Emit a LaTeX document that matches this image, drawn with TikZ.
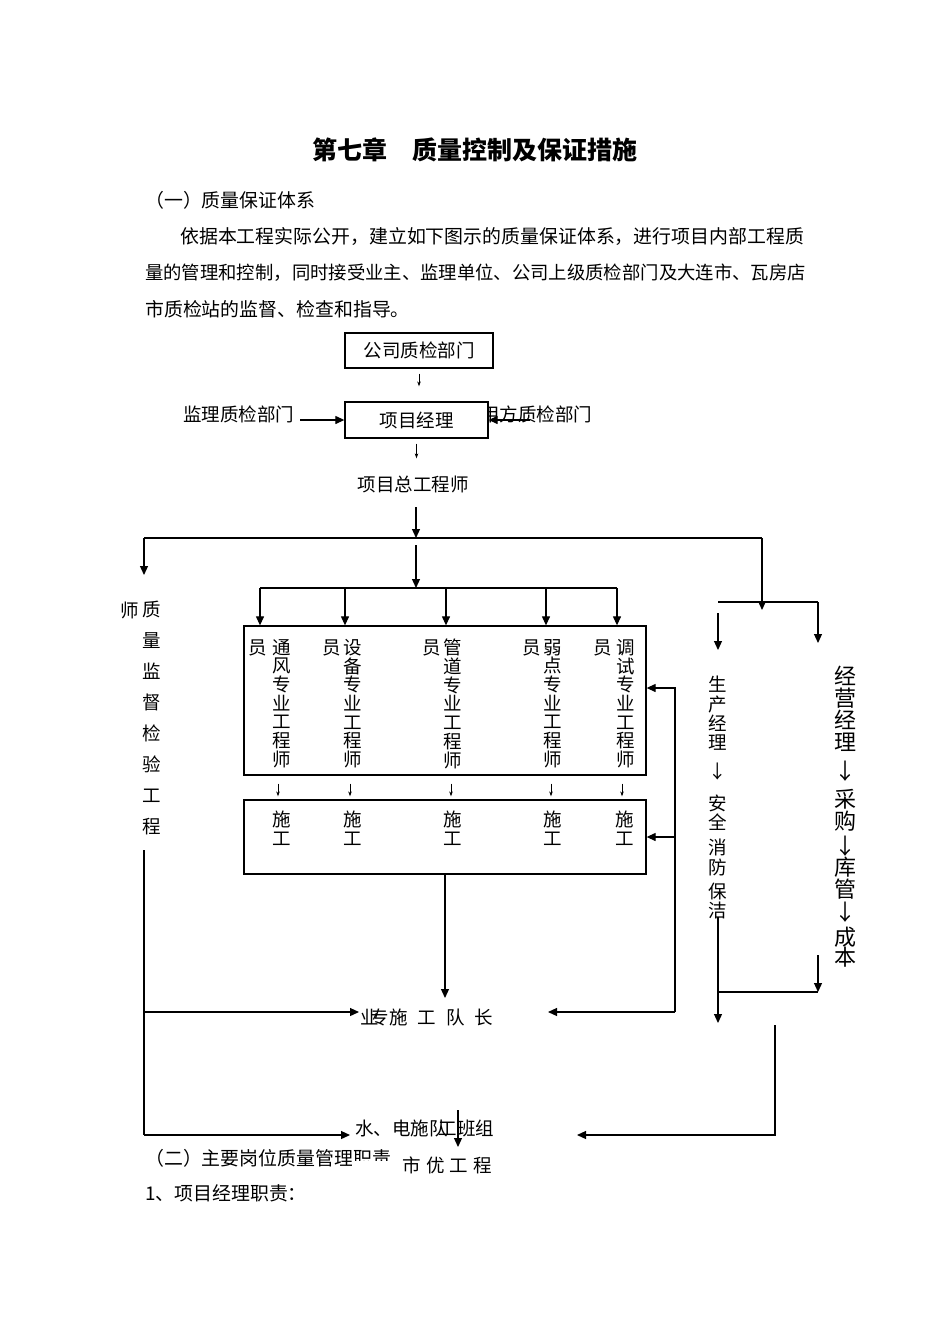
\documentclass[tikz,border=0pt]{standalone}
\usepackage{fontspec}
\setmainfont{Noto Sans CJK SC}
\usepackage{tikz}
\usetikzlibrary{arrows.meta}

\begin{document}
\begin{tikzpicture}[
    x=1pt, y=-1pt,
    line/.style={line width=1.2pt},
    arrow/.style={-{Triangle[length=9pt,width=8pt]}, line width=1.2pt},
    small/.style={-{Stealth[length=5pt,width=3.5pt]}, line width=0.6pt},
    box/.style={rectangle, draw, line width=1.3pt, fill=white, inner sep=0pt},
    txt/.style={inner sep=0pt, font=\fontsize{18.5}{18.7}\selectfont},
    vtxt/.style={txt, align=center, anchor=north},
    para/.style={inner sep=0pt, anchor=west, font=\fontsize{18.9}{20}\selectfont}
]
    \useasboundingbox[fill=white] (0,0) rectangle (950,1344);

    % page text
    \node[inner sep=0pt, font=\fontsize{25}{25}\selectfont\bfseries] (title) at (475,150) {第七章\hspace{25pt}质量控制及保证措施};
    \node[para] (sec1) at (145,200) {（一）质量保证体系};
    \node[para] (par1) at (180,237) {依据本工程实际公开，建立如下图示的质量保证体系，进行项目内部工程质};
    \node[para, font=\fontsize{18.35}{20}\selectfont] (par2) at (145,273) {量的管理和控制，同时接受业主、监理单位、公司上级质检部门及大连市、瓦房店};
    \node[para] (par3) at (145,309) {市质检站的监督、检查和指导。};

    % top of the chart
    \node[box, txt, minimum width=148pt, minimum height=35pt] (company) at (419,350.5) {公司质检部门};
    \node[txt, anchor=west] (supervisor) at (183,414) {监理质检部门};
    \node[txt, anchor=west] (owner) at (481,414) {甲方质检部门};
    \node[box, txt, minimum width=143pt, minimum height=36pt] (pm) at (416.5,420) {项目经理};
    \node[txt] (chief) at (413,484) {项目总工程师};
    \coordinate (ownerin) at (530,420);

    \draw[small, shorten <=5pt, shorten >=15pt] (company.south) -- (company.south |- pm.north);
    \draw[arrow] ([xshift=6pt]supervisor.east |- pm.west) -- (pm.west);
    \draw[arrow] (ownerin) -- (pm.east);
    \draw[small, shorten <=5pt, shorten >=17pt] (pm.south) -- (pm.south |- chief.north);

    % branches
    \coordinate (split1) at (416,538);
    \coordinate (split2) at (416,588);
    \coordinate (qa) at (144,538);
    \coordinate (ra) at (762,538);
    \coordinate (rb) at (718,602);
    \coordinate (rc) at (818,602);
    \draw[arrow] (split1 |- 0,507) -- (split1);
    \draw[line] (qa) -- (ra);
    \draw[arrow] (qa) -- (qa |- 0,575);
    \draw[arrow] (ra) -- (ra |- 0,610);
    \draw[line] (rb) -- (rc);
    \draw[arrow] (rc) -- (rc |- 0,643);
    \draw[arrow] (rb |- 0,613) -- (rb |- 0,650);
    \draw[arrow] (split1 |- 0,545) -- (split2);

    % engineers and crews
    \node[box, minimum width=402pt, minimum height=149pt] (engineers) at (445,700.5) {};
    \node[box, minimum width=402pt, minimum height=74pt] (crews) at (445,837) {};

    \foreach \x [count=\i] in {260,345,446,546,617}
        \coordinate (d\i) at (\x,588);
    \draw[line] (d1) -- (d5);
    \foreach \i in {1,...,5}
        \draw[arrow] (d\i) -- (d\i |- engineers.north);

    \foreach \a/\b/\p/\q [count=\i] in {258/282/通/风, 332/353/设/备, 432/453/管/道, 532/553/弱/点, 603/626/调/试} {
        \node[txt] (staff\i) at (\a,648) {员};
        \node[vtxt] (eng\i) at (\b,639) {\p\\\q\\专\\业\\工\\程\\师};
    }
    \foreach \x [count=\i] in {282,353,453,553,625}
        \node[vtxt] (work\i) at (\x,811) {施\\工};
    \foreach \x in {278,350,451,551,622}
        \draw[small, shorten <=8pt, shorten >=3pt] (\x,0 |- engineers.south) -- (\x,0 |- crews.north);

    % side columns
    \node[txt] (qualityhead) at (130,610) {师};
    \node[vtxt, font=\fontsize{18.5}{31}\selectfont] (quality) at (152,601) {质\\量\\监\\督\\检\\验\\工\\程};
    \node[vtxt, font=\fontsize{18.5}{19.3}\selectfont] (prod) at (718,676) {生\\产\\经\\理\\[10pt]↓\\[12pt]安\\全\\[6pt]消\\防\\[5pt]保\\洁};
    \node[vtxt, font=\fontsize{22}{22}\selectfont] (sales) at (845,666) {经\\营\\经\\理\\[7pt]↓\\[6pt]采\\购\\[3pt]↓\\[-1pt]库\\管\\[1pt]↓\\[3pt]成\\[-2pt]本};

    % bottom of the chart
    \node[txt] (leaderhead) at (370,1017) {业};
    \node[txt, anchor=west] (leader) at (370.7,1017) {专施\hspace{10pt}工\hspace{10pt}队\hspace{10pt}长};
    \node[txt, anchor=west] (team) at (355,1128) {水、电施};
    \node[txt] (teamx) at (439,1128) {队};
    \node[txt, anchor=west] (teamend) at (438.7,1128) {工班组};
    \node[para] (sec2) at (145,1158) {（二）主要岗位质量管理职责};
    \fill[white] (352,1160.5) rectangle (401,1171);
    \node[txt, anchor=west] (excellent) at (402.7,1165) {市\hspace{5pt}优\hspace{5pt}工\hspace{5pt}程};
    \node[para] (sec3) at (145,1193) {1、项目经理职责：};

    \coordinate (fb) at (675,1012);
    \coordinate (leaderin) at (548,1012);
    \coordinate (leaderout) at (359,1012);
    \coordinate (qtop) at (144,850);
    \coordinate (qbot) at (144,1135);
    \coordinate (teamleft) at (350,1135);
    \coordinate (teamright) at (577,1135);
    \coordinate (prodout) at (718,917);
    \coordinate (prodend) at (718,1023);
    \coordinate (join) at (718,992);
    \coordinate (salesout) at (818,955);
    \coordinate (rbot1) at (775,1025);
    \coordinate (rbot2) at (775,1135);
    \coordinate (teamdown) at (458,1110);
    \coordinate (teamin) at (458,1147);

    \draw[arrow] (fb) |- (engineers.east |- 0,688);
    \draw[arrow] (fb |- crews.east) -- (crews.east);
    \draw[arrow] (fb) -- (leaderin);
    \draw[arrow] (crews.south) -- (crews.south |- 0,998);
    \draw[line] (qtop) -- (qbot);
    \draw[arrow] (qtop |- fb) -- (leaderout);
    \draw[arrow] (qbot) -- (teamleft);
    \draw[arrow] (prodout) -- (prodend);
    \draw[line] (join) -- (salesout |- join);
    \draw[arrow] (salesout) -- (salesout |- join);
    \draw[arrow] (rbot1) -- (rbot2) -- (teamright);
    \draw[arrow] (teamdown) -- (teamin);
\end{tikzpicture}
\end{document}
